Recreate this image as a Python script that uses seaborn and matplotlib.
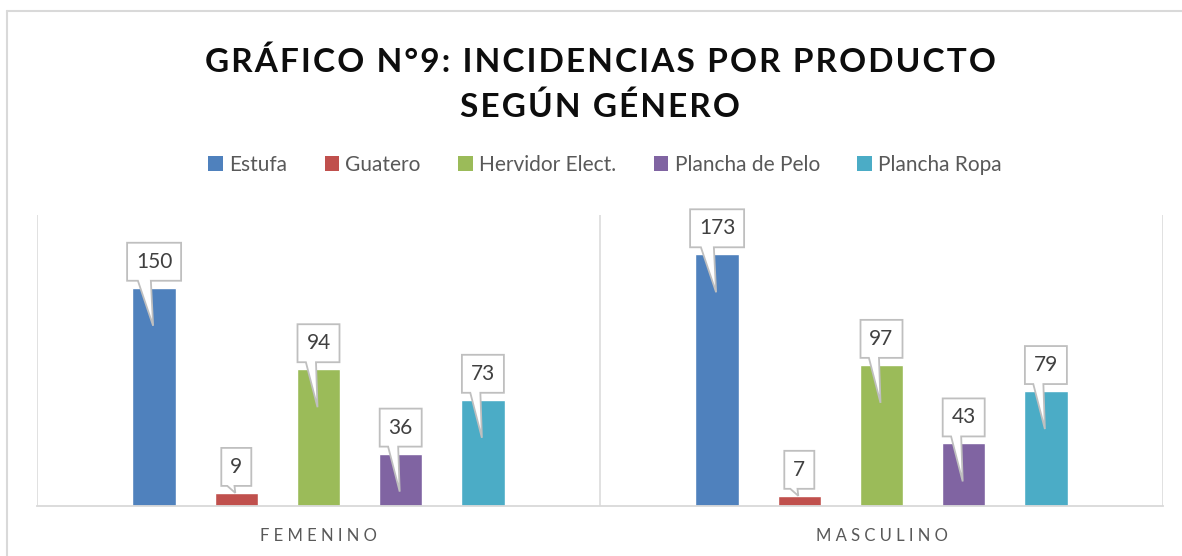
import matplotlib
matplotlib.use("Agg")
import matplotlib.pyplot as plt
import matplotlib.transforms as mtransforms
from matplotlib.patches import Polygon
from matplotlib.lines import Line2D
import seaborn as sns
import pandas as pd

categories = ["FEMENINO", "MASCULINO"]
products = ["Estufa", "Guatero", "Hervidor Elect.", "Plancha de Pelo", "Plancha Ropa"]
femenino = [150, 9, 94, 36, 73]
masculino = [173, 7, 97, 43, 79]
colors = ["#4F81BD", "#C0504D", "#9BBB59", "#8064A2", "#4BACC6"]
title_lines = ["GRÁFICO N°9: INCIDENCIAS POR PRODUCTO", "SEGÚN GÉNERO"]

rows = []
for cat, vals in zip(categories, [femenino, masculino]):
    for p, v in zip(products, vals):
        rows.append({"Genero": cat, "Producto": p, "Valor": v})
df = pd.DataFrame(rows)

sns.set_theme(style="white")
FONT = ["Lato", "DejaVu Sans"]
plt.rcParams["font.family"] = FONT

W, H = 1182, 556
fig = plt.figure(figsize=(W / 100, H / 100), dpi=100)
ax = fig.add_axes([37 / W, 1 - 506 / H, (1163 - 37) / W, (506 - 215) / H])

sns.barplot(data=df, x="Genero", y="Valor", hue="Producto", hue_order=products,
            order=categories, palette=colors, width=0.73, gap=0.47,
            saturation=1, ax=ax, legend=False)

ax.set_ylim(0, 200)
ax.set_xlim(-0.5, 1.5)
ax.set_yticks([])
ax.set_xlabel("")
ax.set_ylabel("")
for s in ["top", "left", "right"]:
    ax.spines[s].set_visible(False)
ax.spines["bottom"].set_color("#d9d9d9")
ax.spines["bottom"].set_linewidth(1.3)
for xb in [-0.5, 0.5, 1.5]:
    ax.axvline(xb, color="#d9d9d9", lw=1.1, zorder=0)

sp = "\u2009\u2009"
ax.set_xticks(range(len(categories)))
ax.set_xticklabels([sp.join(list(c)) for c in categories], fontsize=12, color="#595959")
ax.tick_params(axis="x", length=0, pad=16)

# callouts
ypx = (506 - 215) / 200.0
for cont in ax.containers:
    for bar in cont:
        x = bar.get_x() + bar.get_width() / 2
        h = bar.get_height()
        txt = str(int(round(h)))
        w = 18 + 12 * len(txt)
        yb, yt = 7, 45
        tip = -38 if h * ypx > 50 else 0
        verts = [(-w / 2, yb), (-w / 2, yt), (w / 2, yt), (w / 2, yb),
                 (-0.06 * w, yb), (-1, tip), (-0.3 * w, yb)]
        tr = mtransforms.Affine2D() + mtransforms.ScaledTranslation(x, h, ax.transData)
        poly = Polygon(verts, closed=True, facecolor="white", edgecolor="#bfbfbf",
                       lw=1.3, transform=tr, zorder=5, clip_on=False)
        ax.add_patch(poly)
        ax.annotate(txt, xy=(x, h), xytext=(0, 26), textcoords="offset pixels",
                    ha="center", va="center", fontsize=15, color="#404040",
                    zorder=6, annotation_clip=False)

# legend
handles = [plt.Rectangle((0, 0), 1, 1, facecolor=c, edgecolor="none") for c in colors]
fig.legend(handles, products, loc="center", bbox_to_anchor=(605 / W, 1 - 165 / H),
           ncol=5, frameon=False, fontsize=15, handlelength=0.7, handleheight=0.7,
           handletextpad=0.3, columnspacing=1.8, labelcolor="#595959")

tsp = "\u200a"
fig.text(600 / W, 1 - 62 / H, tsp.join(list(title_lines[0])), ha="center", va="center",
         fontsize=24, fontweight="bold", color="#0d0d0d")
fig.text(600 / W, 1 - 107 / H, tsp.join(list(title_lines[1])), ha="center", va="center",
         fontsize=24, fontweight="bold", color="#0d0d0d")

# chart frame
fig.add_artist(Line2D([7 / W, 1], [1 - 11 / H, 1 - 11 / H], color="#d9d9d9", lw=1.5,
                      transform=fig.transFigure))
fig.add_artist(Line2D([7 / W, 7 / W], [0, 1 - 11 / H], color="#d9d9d9", lw=1.5,
                      transform=fig.transFigure))

fig.savefig("out.png", dpi=100)
